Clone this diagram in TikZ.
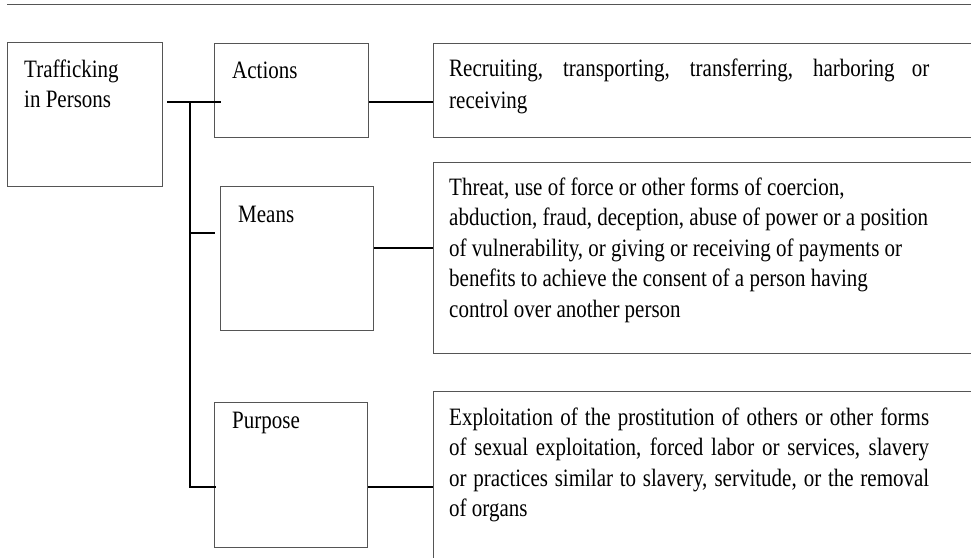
\documentclass[tikz,border=0pt]{standalone}
\usepackage{fontspec}
\setmainfont[FakeStretch=0.84]{Liberation Serif}
\definecolor{frame_gray}{RGB}{85, 85, 85}
\usetikzlibrary{positioning}

\begin{document}
\begin{tikzpicture}[x=1pt, y=-1pt,
        box/.style={rectangle, draw=frame_gray, line width=1.2pt, anchor=north west,
                    inner sep=0pt},
        lbl/.style={anchor=base west, inner sep=0pt, text width=140pt, align=justify,
                    font=\fontsize{25}{30}\selectfont},
        para/.style={anchor=base west, inner sep=0pt, text width=480pt, align=justify,
                     font=\fontsize{25}{30.5}\selectfont},
        link/.style={line width=1.6pt, color=black},
      ]
        \useasboundingbox (0,0) rectangle (971,557);
        \clip (0,0) rectangle (971,557);

        \draw[frame_gray, line width=1.2pt] (7,4.5) -- (971,4.5);

        % left column
        \node[box, minimum width=155pt, minimum height=144pt] (tip)     at (7,   42)  {};
        \node[box, minimum width=154pt, minimum height=94pt]  (actions) at (214, 43)  {};
        \node[box, minimum width=153pt, minimum height=144pt] (means)   at (220, 186) {};
        \node[box, minimum width=153pt, minimum height=145pt] (purpose) at (214, 402) {};

        % right column, open to the right
        \node[box, minimum width=560pt, minimum height=94pt]  (acttext)   at (433, 43)  {};
        \node[box, minimum width=560pt, minimum height=191pt] (meanstext) at (433, 162) {};
        \node[box, minimum width=560pt, minimum height=200pt] (purptext)  at (433, 391) {};

        \node[lbl] (tiplbl)     at (24,  77)  {Trafficking\\in Persons};
        \node[lbl] (actionslbl) at (232, 78)  {Actions};
        \node[lbl] (meanslbl)   at (238, 222) {Means};
        \node[lbl] (purposelbl) at (232, 428) {Purpose};

        \node[para, font=\fontsize{25}{32}\selectfont] (actpara) at (449, 76)
          {Recruiting, transporting, transferring, harboring or\linebreak receiving};
        \node[para, text width=600pt] (meanspara) at (449, 195)
          {Threat, use of force or other forms of coercion,\\
           abduction, fraud, deception, abuse of power or a position\\
           of vulnerability, or giving or receiving of payments or\\
           benefits to achieve the consent of a person having\\
           control over another person};
        \node[para] (purppara) at (449, 425)
          {Exploitation of the prostitution of others or other forms\linebreak
           of sexual exploitation, forced labor or services, slavery\linebreak
           or practices similar to slavery, servitude, or the removal\linebreak
           of organs};

        \coordinate (split)    at (190, 102);
        \coordinate (jmeans)   at (190, 233);
        \coordinate (jpurpose) at (190, 487);
        \coordinate (mlevel)   at (0,   248);

        \draw[link] ([xshift=4pt]tip.east |- split) -- ([xshift=7pt]actions.west |- split);
        \draw[link] (split) -- (jpurpose) -- ([xshift=2pt]purpose.west |- jpurpose);
        \draw[link] (jmeans) -- ([xshift=-5pt]means.west |- jmeans);
        \draw[link] (actions.east |- split) -- (acttext.west |- split);
        \draw[link] (means.east |- mlevel) -- (meanstext.west |- mlevel);
        \draw[link] (purpose.east |- jpurpose) -- (purptext.west |- jpurpose);
      \end{tikzpicture}
\end{document}
